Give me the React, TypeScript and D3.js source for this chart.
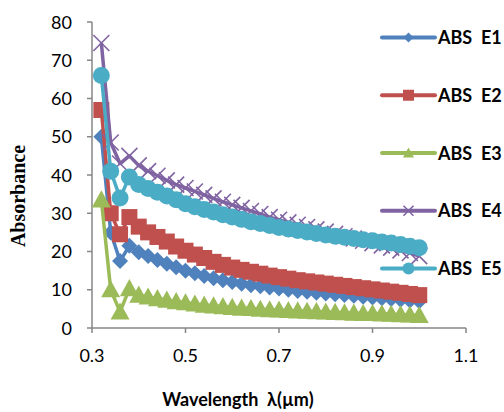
import React from 'react'
import * as d3 from 'd3'

const width = 504
const height = 412
const margin = { top: 22, right: 38, bottom: 84, left: 92 }

// wavelength in µm
const wavelength = [
    0.32, 0.34, 0.36, 0.38, 0.4, 0.42, 0.44, 0.46, 0.48, 0.5, 0.52, 0.54, 0.56,
    0.58, 0.6, 0.62, 0.64, 0.66, 0.68, 0.7, 0.72, 0.74, 0.76, 0.78, 0.8, 0.82,
    0.84, 0.86, 0.88, 0.9, 0.92, 0.94, 0.96, 0.98, 1.0,
]

const absE1 = [
    50, 25, 17.5, 21.5, 19.8, 18.8, 17.8, 16.8, 15.9, 15, 14.3, 13.6, 13, 12.5,
    12, 11.6, 11.2, 10.9, 10.6, 10.3, 10, 9.7, 9.5, 9.2, 9, 8.8, 8.6, 8.4, 8.2,
    8, 7.8, 7.6, 7.4, 7.2, 7,
]
const absE2 = [
    57, 30, 24.5, 29, 26.5, 25, 23.8, 22.6, 21.3, 20.2, 19.2, 18.3, 17.3, 16.5,
    15.8, 15.2, 14.7, 14.2, 13.7, 13.3, 12.9, 12.5, 12.2, 11.9, 11.6, 11.3, 11,
    10.7, 10.4, 10.1, 9.8, 9.5, 9.2, 8.9, 8.6,
]
const absE3 = [
    33.5, 10, 4.2, 10.3, 8.6, 8.1, 7.7, 7.3, 6.9, 6.6, 6.3, 6, 5.8, 5.6, 5.4,
    5.2, 5.1, 4.9, 4.8, 4.7, 4.6, 4.5, 4.4, 4.3, 4.2, 4.1, 4, 3.9, 3.8, 3.8, 3.7,
    3.6, 3.5, 3.4, 3.3,
]
const absE4 = [
    74.5, 48.5, 43, 45, 42.5, 41, 39.8, 38.6, 37.5, 36.6, 35.7, 34.8, 33.9, 33,
    32.2, 31.4, 30.6, 29.8, 29, 28.3, 27.6, 27, 26.4, 25.8, 25.2, 24.6, 24, 23.4,
    22.8, 22.2, 21.6, 21, 20.3, 19.6, 18.8,
]
const absE5 = [
    66, 41, 34, 39.5, 37.5, 36.5, 35.5, 34.5, 33.5, 32.5, 31.7, 31, 30.3, 29.6,
    29, 28.4, 27.8, 27.3, 26.8, 26.3, 25.9, 25.5, 25.1, 24.7, 24.3, 24, 23.7,
    23.4, 23.1, 22.8, 22.5, 22.2, 21.8, 21.4, 21,
]

const seriesNames = ['ABS  E1', 'ABS  E2', 'ABS  E3', 'ABS  E4', 'ABS  E5']
const seriesValues = [absE1, absE2, absE3, absE4, absE5]
const seriesColors = ['#4f81bd', '#c0504d', '#9bbb59', '#8064a2', '#4bacc6']
const markerKinds = ['diamond', 'square', 'triangle', 'cross', 'circle']

const xTicks = [0.3, 0.5, 0.7, 0.9, 1.1]
const yTicks = [0, 10, 20, 30, 40, 50, 60, 70, 80]

const axisColor = '#868686'
const tickFont = 'Lato, "Open Sans", sans-serif'

const xScale = d3
    .scaleLinear()
    .domain([0.3, 1.1])
    .range([margin.left, width - margin.right])
const yScale = d3
    .scaleLinear()
    .domain([0, 80])
    .range([height - margin.bottom, margin.top])

const Marker = ({ kind, x, y, color, s }) => {
    if (kind === 'diamond') {
        return (
            <path
                d={`M${x},${y - s}L${x + s},${y}L${x},${y + s}L${x - s},${y}Z`}
                fill={color}
            />
        )
    }
    if (kind === 'square') {
        return (
            <rect x={x - s} y={y - s} width={s * 2} height={s * 2} fill={color} />
        )
    }
    if (kind === 'triangle') {
        return (
            <path
                d={`M${x},${y - s}L${x + s},${y + s * 0.8}L${x - s},${y + s * 0.8}Z`}
                fill={color}
            />
        )
    }
    if (kind === 'cross') {
        return (
            <path
                d={`M${x - s},${y - s}L${x + s},${y + s}M${x - s},${y + s}L${x + s},${y - s}`}
                stroke={color}
                strokeWidth={1.6}
                fill="none"
            />
        )
    }
    return <circle cx={x} cy={y} r={s} fill={color} />
}

const chartSize = [8, 8, 9.5, 8, 8.5]
const legendSize = [5, 5.5, 5.5, 5, 6]

const App = () => {
    const line = d3
        .line<number>()
        .x((d, i) => xScale(wavelength[i]))
        .y((d) => yScale(d))

    const legendY = d3
        .scalePoint()
        .domain(seriesNames)
        .range([37.5, 268.5])

    return (
        <svg
            width={width}
            height={height}
            style={{ position: 'absolute', left: 0, top: 0, background: '#fff' }}
        >
            {/* axes */}
            <line
                x1={xScale(0.3)}
                x2={xScale(1.1)}
                y1={yScale(0)}
                y2={yScale(0)}
                stroke={axisColor}
                strokeWidth={1.5}
            />
            <line
                x1={xScale(0.3)}
                x2={xScale(0.3)}
                y1={yScale(0)}
                y2={yScale(80)}
                stroke={axisColor}
                strokeWidth={1.5}
            />
            {xTicks.map((t) => (
                <g key={'x' + t}>
                    <line
                        x1={xScale(t)}
                        x2={xScale(t)}
                        y1={yScale(0)}
                        y2={yScale(0) + 5}
                        stroke={axisColor}
                        strokeWidth={1.5}
                    />
                    <text
                        x={xScale(t)}
                        y={361.5}
                        textAnchor="middle"
                        fontFamily={tickFont}
                        fontSize={18}
                        fill="#000"
                    >
                        {t.toFixed(1)}
                    </text>
                </g>
            ))}
            {yTicks.map((t) => (
                <g key={'y' + t}>
                    <line
                        x1={xScale(0.3) - 5}
                        x2={xScale(0.3)}
                        y1={yScale(t)}
                        y2={yScale(t)}
                        stroke={axisColor}
                        strokeWidth={1.5}
                    />
                    <text
                        x={72}
                        y={yScale(t) + 6.5}
                        textAnchor="end"
                        fontFamily={tickFont}
                        fontSize={18}
                        fill="#000"
                    >
                        {t}
                    </text>
                </g>
            ))}

            {/* series */}
            {seriesValues.map((vals, si) => (
                <g key={seriesNames[si]}>
                    <path
                        d={line(vals)}
                        fill="none"
                        stroke={seriesColors[si]}
                        strokeWidth={3.5}
                        strokeLinejoin="round"
                    />
                    {vals.map((v, i) => (
                        <Marker
                            key={i}
                            kind={markerKinds[si]}
                            x={xScale(wavelength[i])}
                            y={yScale(v)}
                            color={seriesColors[si]}
                            s={chartSize[si]}
                        />
                    ))}
                </g>
            ))}

            {/* legend */}
            {seriesNames.map((name, si) => {
                const ly = legendY(name)
                return (
                    <g key={'leg' + name}>
                        <line
                            x1={382}
                            x2={435}
                            y1={ly}
                            y2={ly}
                            stroke={seriesColors[si]}
                            strokeWidth={4}
                            strokeLinecap="round"
                        />
                        <Marker
                            kind={markerKinds[si]}
                            x={408.5}
                            y={ly}
                            color={seriesColors[si]}
                            s={legendSize[si]}
                        />
                        <text
                            x={438}
                            y={ly + 6.5}
                            fontFamily={tickFont}
                            fontWeight="bold"
                            fontSize={18}
                            fill="#000"
                            style={{ whiteSpace: 'pre' }}
                        >
                            {name}
                        </text>
                    </g>
                )
            })}

            {/* axis titles */}
            <text
                transform={`translate(25,196) rotate(-90)`}
                textAnchor="middle"
                fontFamily='"Liberation Serif", "Times New Roman", serif'
                fontWeight="bold"
                fontSize={20}
                fill="#000"
            >
                Absorbance
            </text>
            <text
                x={238}
                y={406}
                textAnchor="middle"
                fontFamily={tickFont}
                fontWeight="bold"
                fontSize={18}
                fill="#000"
                style={{ whiteSpace: 'pre' }}
            >
                {'Wavelength  λ(µm)'}
            </text>
        </svg>
    )
}

export default App
